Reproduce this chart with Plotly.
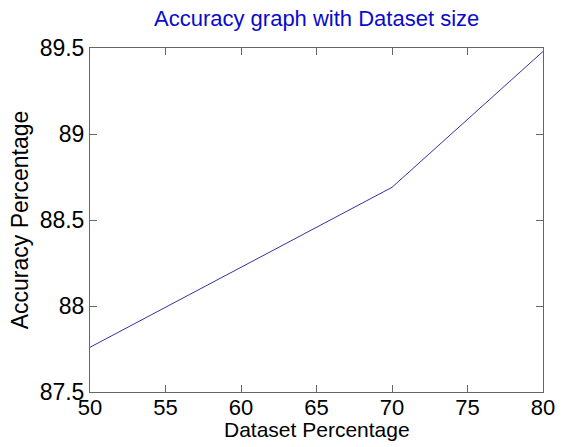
import plotly.graph_objects as go

dataset_pct = [50, 70, 80]
accuracy = [87.76, 88.69, 89.48]
x_ticks = [50, 55, 60, 65, 70, 75, 80]
y_ticks = [87.5, 88, 88.5, 89, 89.5]
y_tick_text = ["87.5", "88", "88.5", "89", "89.5"]

fig = go.Figure()
fig.add_trace(go.Scatter(x=dataset_pct, y=accuracy, mode="lines",
                         line=dict(color="#3333a0", width=1), showlegend=False,
                         hoverinfo="skip"))

font_family = "Liberation Sans, Arial, sans-serif"
fig.update_layout(
    width=567, height=447,
    margin=dict(l=90, r=16, t=48, b=55),
    paper_bgcolor="white", plot_bgcolor="white",
    font=dict(family=font_family, color="black"),
    annotations=[
        dict(text="Accuracy graph with Dataset size", x=0.5, y=1.086,
             xref="paper", yref="paper", xanchor="center", yanchor="middle",
             showarrow=False, borderpad=0,
             font=dict(family=font_family, size=22, color="#0a0acc")),
        dict(text="Dataset Percentage", x=0.5, y=-0.144,
             xref="paper", yref="paper", xanchor="center", yanchor="bottom",
             showarrow=False, borderpad=0,
             font=dict(family=font_family, size=21, color="black")),
    ],
)
fig.update_xaxes(range=[50, 80], tickvals=x_ticks, ticks="inside", ticklen=7,
                 tickcolor="#666", showline=True, linecolor="#666", linewidth=1,
                 mirror="ticks", showgrid=False, zeroline=False,
                 ticklabelstandoff=-4,
                 tickfont=dict(size=22, family=font_family))
fig.update_yaxes(range=[87.5, 89.5], tickvals=y_ticks, ticktext=y_tick_text,
                 ticks="inside", ticklen=7, tickcolor="#666", showline=True,
                 linecolor="#666", linewidth=1, mirror="ticks", showgrid=False,
                 zeroline=False, tickfont=dict(size=23, family=font_family),
                 title=dict(text="Accuracy Percentage", standoff=4,
                            font=dict(size=23, family=font_family)))

fig.write_html("out.html", config={"displayModeBar": False},
               post_script="document.body.style.margin='0';document.body.style.overflow='hidden';")
